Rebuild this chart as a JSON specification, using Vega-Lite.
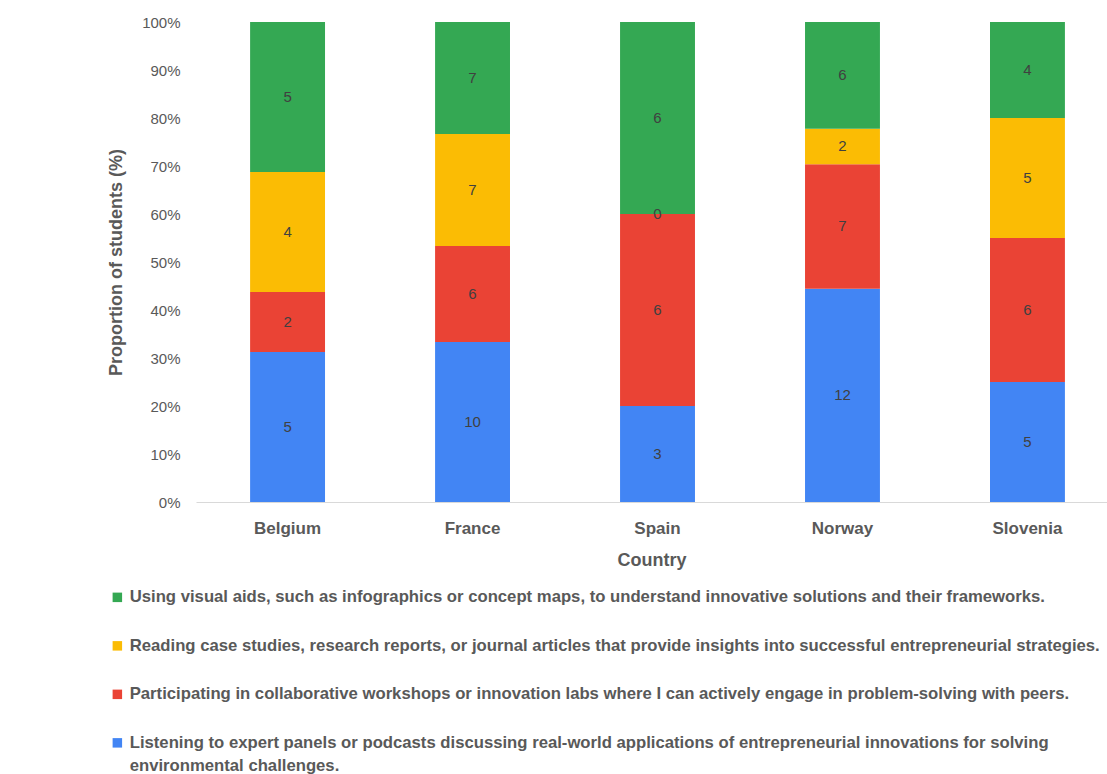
{
  "$schema": "https://vega.github.io/schema/vega-lite/v6.json",
  "width": 911,
  "height": 480,
  "autosize": {"type": "none"},
  "padding": {"left": 196, "top": 22, "right": 0, "bottom": 272},
  "background": "white",
  "config": {"view": {"stroke": null}, "font": "Liberation Sans", "style": {"guide-label": {"lineHeight": 23}}},
  "data": {"values": [
    {"country": "Belgium", "item": "Listening to expert panels or podcasts discussing real-world applications of entrepreneurial innovations for solving environmental challenges.", "order": 1, "count": 5},
    {"country": "Belgium", "item": "Participating in collaborative workshops or innovation labs where I can actively engage in problem-solving with peers.", "order": 2, "count": 2},
    {"country": "Belgium", "item": "Reading case studies, research reports, or journal articles that provide insights into successful entrepreneurial strategies.", "order": 3, "count": 4},
    {"country": "Belgium", "item": "Using visual aids, such as infographics or concept maps, to understand innovative solutions and their frameworks.", "order": 4, "count": 5},
    {"country": "France", "item": "Listening to expert panels or podcasts discussing real-world applications of entrepreneurial innovations for solving environmental challenges.", "order": 1, "count": 10},
    {"country": "France", "item": "Participating in collaborative workshops or innovation labs where I can actively engage in problem-solving with peers.", "order": 2, "count": 6},
    {"country": "France", "item": "Reading case studies, research reports, or journal articles that provide insights into successful entrepreneurial strategies.", "order": 3, "count": 7},
    {"country": "France", "item": "Using visual aids, such as infographics or concept maps, to understand innovative solutions and their frameworks.", "order": 4, "count": 7},
    {"country": "Spain", "item": "Listening to expert panels or podcasts discussing real-world applications of entrepreneurial innovations for solving environmental challenges.", "order": 1, "count": 3},
    {"country": "Spain", "item": "Participating in collaborative workshops or innovation labs where I can actively engage in problem-solving with peers.", "order": 2, "count": 6},
    {"country": "Spain", "item": "Reading case studies, research reports, or journal articles that provide insights into successful entrepreneurial strategies.", "order": 3, "count": 0},
    {"country": "Spain", "item": "Using visual aids, such as infographics or concept maps, to understand innovative solutions and their frameworks.", "order": 4, "count": 6},
    {"country": "Norway", "item": "Listening to expert panels or podcasts discussing real-world applications of entrepreneurial innovations for solving environmental challenges.", "order": 1, "count": 12},
    {"country": "Norway", "item": "Participating in collaborative workshops or innovation labs where I can actively engage in problem-solving with peers.", "order": 2, "count": 7},
    {"country": "Norway", "item": "Reading case studies, research reports, or journal articles that provide insights into successful entrepreneurial strategies.", "order": 3, "count": 2},
    {"country": "Norway", "item": "Using visual aids, such as infographics or concept maps, to understand innovative solutions and their frameworks.", "order": 4, "count": 6},
    {"country": "Slovenia", "item": "Listening to expert panels or podcasts discussing real-world applications of entrepreneurial innovations for solving environmental challenges.", "order": 1, "count": 5},
    {"country": "Slovenia", "item": "Participating in collaborative workshops or innovation labs where I can actively engage in problem-solving with peers.", "order": 2, "count": 6},
    {"country": "Slovenia", "item": "Reading case studies, research reports, or journal articles that provide insights into successful entrepreneurial strategies.", "order": 3, "count": 5},
    {"country": "Slovenia", "item": "Using visual aids, such as infographics or concept maps, to understand innovative solutions and their frameworks.", "order": 4, "count": 4}
  ]},
  "transform": [
    {"stack": "count", "groupby": ["country"], "sort": [{"field": "order", "order": "ascending"}], "offset": "normalize", "as": ["y0", "y1"]},
    {"calculate": "(datum.y0 + datum.y1) / 2", "as": "mid"}
  ],
  "encoding": {
    "x": {
      "field": "country", "type": "nominal", "sort": ["Belgium", "France", "Spain", "Norway", "Slovenia"],
      "scale": {"paddingInner": 0.595, "paddingOuter": 0.26, "align": 0.5625},
      "axis": {"labelAngle": 0, "labelFontWeight": "bold", "labelFontSize": 17, "labelColor": "#595959", "labelPadding": 18, "ticks": false, "domainColor": "#d9d9d9", "domainWidth": 1, "title": "Country", "titleFontSize": 18, "titleFontWeight": "bold", "titleColor": "#595959", "titlePadding": 15}
    }
  },
  "layer": [
    {
      "mark": {"type": "bar"},
      "encoding": {
        "y": {"field": "y0", "type": "quantitative", "scale": {"domain": [0, 1]},
          "axis": {"format": ".0%", "values": [0, 0.1, 0.2, 0.3, 0.4, 0.5, 0.6, 0.7, 0.8, 0.9, 1], "grid": false, "domain": false, "ticks": false, "labelColor": "#595959", "labelFontSize": 15, "labelPadding": 16, "title": "Proportion of students (%)", "titleFontSize": 18, "titleFontWeight": "bold", "titleColor": "#595959", "titlePadding": 16}},
        "y2": {"field": "y1"},
        "color": {
          "field": "item", "type": "nominal",
          "scale": {
            "domain": [
              "Using visual aids, such as infographics or concept maps, to understand innovative solutions and their frameworks.",
              "Reading case studies, research reports, or journal articles that provide insights into successful entrepreneurial strategies.",
              "Participating in collaborative workshops or innovation labs where I can actively engage in problem-solving with peers.",
              "Listening to expert panels or podcasts discussing real-world applications of entrepreneurial innovations for solving environmental challenges."
            ],
            "range": ["#34A853", "#FBBC04", "#EA4335", "#4285F4"]
          },
          "legend": {
            "orient": "none", "legendX": -87, "legendY": 567, "direction": "vertical", "title": null,
            "symbolType": "square", "symbolSize": 90, "symbolStrokeWidth": 0, "symbolOpacity": 1,
            "labelFontSize": 16.7, "labelFontWeight": "bold", "labelColor": "#595959", "labelLimit": 1100, "rowPadding": 30.5, "labelOffset": 4,
            "labelExpr": "indexof(datum.label, 'Listening') == 0 ? ['Listening to expert panels or podcasts discussing real-world applications of entrepreneurial innovations for solving', 'environmental challenges.'] : datum.label"
          }
        }
      }
    },
    {
      "mark": {"type": "text", "fontSize": 15, "color": "#404040"},
      "encoding": {
        "y": {"field": "mid", "type": "quantitative"},
        "text": {"field": "count", "type": "quantitative"}
      }
    }
  ]
}
